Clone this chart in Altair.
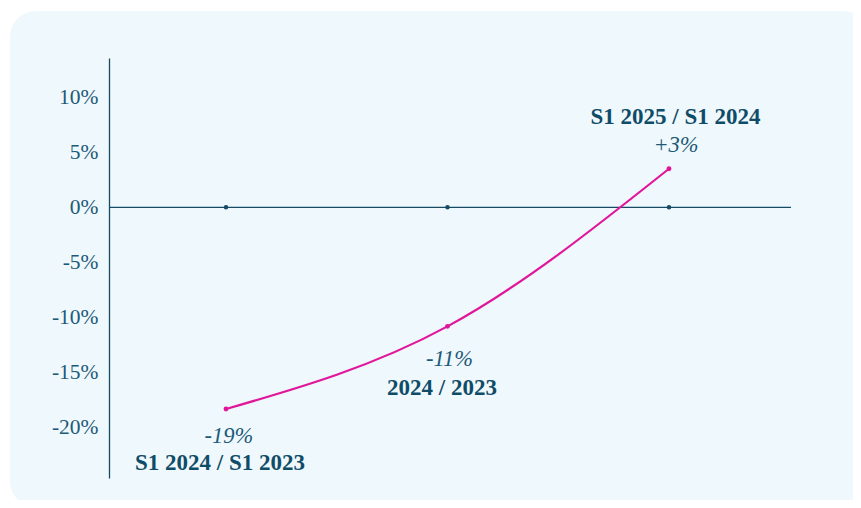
import altair as alt
import pandas as pd

# ---- data ----
periods = ["S1 2024 / S1 2023", "2024 / 2023", "S1 2025 / S1 2024"]
positions = [1, 2, 3]
changes = [-18.3, -10.8, 3.5]
change_labels = ["-19%", "-11%", "+3%"]
y_ticks = [10, 5, 0, -5, -10, -15, -20]

df = pd.DataFrame({"period": periods, "pos": positions, "change": changes,
                   "label": change_labels, "zero": [0, 0, 0]})

# ---- style ----
FONT = "Liberation Serif"
AXIS_COL = "#164b63"
TICK_COL = "#1d5a78"
TEXT_COL = "#0f4c68"
PINK = "#e0179b"
BG = "#eff8fc"

x_scale = alt.Scale(domain=[0.4718, 3.5508], range=[101, 783], nice=False, zero=False)
y_scale = alt.Scale(domain=[-24.56, 13.55], range=[470, 50], nice=False, zero=False)
y_axis = alt.Axis(values=y_ticks, labelExpr="datum.value + '%'", offset=-101,
                  ticks=False, grid=False, domainColor=AXIS_COL, domainWidth=1.3,
                  labelFont=FONT, labelFontSize=21.5, labelColor=TICK_COL,
                  labelPadding=11, title=None, zindex=1)

X = alt.X("pos:Q", scale=x_scale, axis=None)
Y = alt.Y("change:Q", scale=y_scale, axis=y_axis)

bg = alt.Chart(alt.Data(values=[{}])).mark_rect(fill=BG, cornerRadius=26).encode(
    x=alt.value(2), x2=alt.value(862), y=alt.value(3), y2=alt.value(499))

zero_line = alt.Chart(alt.Data(values=[{"zero": 0}])).mark_rule(
    color=AXIS_COL, strokeWidth=1.3).encode(
    y=alt.Y("zero:Q", scale=y_scale, axis=y_axis),
    x=alt.value(101), x2=alt.value(783))

zero_dots = alt.Chart(df).mark_circle(size=20, color=AXIS_COL, opacity=1).encode(
    x=X, y=alt.Y("zero:Q", scale=y_scale, axis=y_axis))

line = alt.Chart(df).mark_line(color=PINK, strokeWidth=2.2, interpolate="monotone").encode(
    x=X, y=Y)
pts = alt.Chart(df).mark_circle(size=24, color=PINK, opacity=1).encode(x=X, y=Y)

# label offsets (dx, dy) for value and period texts
val_off = [(3, 27), (2, 33), (7, -24)]
per_off = [(-6, 54), (-5.5, 62), (6.5, -52)]

layers = [bg, zero_line, zero_dots, line, pts]
for i, p in enumerate(positions):
    base = alt.Chart(df).transform_filter(alt.datum.pos == p)
    layers.append(base.mark_text(font=FONT, fontSize=22.5, fontStyle="italic",
                                 color=TICK_COL, baseline="middle", align="center",
                                 dx=val_off[i][0], dy=val_off[i][1]).encode(
        x=X, y=Y, text="label:N"))
    layers.append(base.mark_text(font=FONT, fontSize=23, fontWeight="bold",
                                 color=TEXT_COL, baseline="middle", align="center",
                                 dx=per_off[i][0], dy=per_off[i][1]).encode(
        x=X, y=Y, text="period:N"))

chart = alt.layer(*layers).properties(
    width=845, height=492, padding=0,
    autosize=alt.AutoSizeParams(type="none"),
    background="white",
).configure_view(stroke="transparent")

chart.save("out.html", embed_options={"renderer": "svg", "actions": False})
